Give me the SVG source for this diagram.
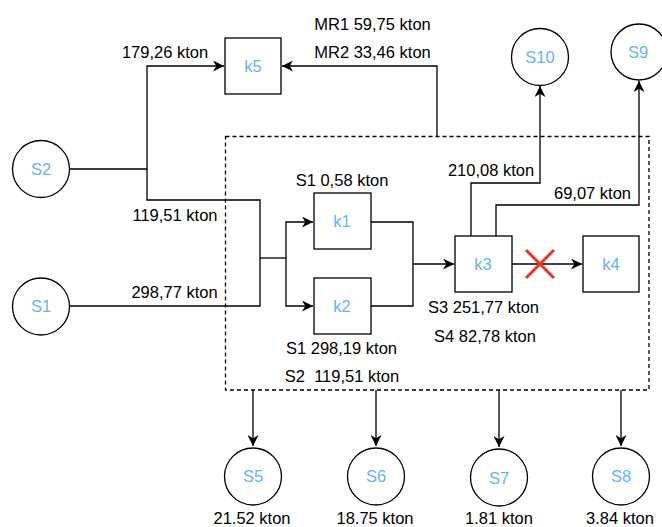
<svg xmlns="http://www.w3.org/2000/svg" width="662" height="527" viewBox="0 0 662 527">
<style>
text{font-family:"Liberation Sans",Arial,Helvetica,sans-serif;font-size:16.5px;fill:#000;text-anchor:middle;white-space:pre}
.lbl{fill:#66B2FF}
.box{fill:#fff;stroke:#000;stroke-width:1.3}
.ln{fill:none;stroke:#000;stroke-width:1.3}
.dash{fill:none;stroke:#000;stroke-width:1.3;stroke-dasharray:4 3}
</style>
<defs>
<marker id="ah" viewBox="0 0 10 10" refX="10" refY="5" markerWidth="11" markerHeight="11" markerUnits="userSpaceOnUse" orient="auto">
<path d="M0,0 L10,5 L0,10 L3,5 Z" fill="#000"/>
</marker>
</defs>
<rect width="662" height="527" fill="#fff"/>
<rect class="dash" x="225.5" y="136.5" width="423.5" height="253.5"/>
<g id="connectors">
<path class="ln" d="M70,169 H147 V66 H224" marker-end="url(#ah)"/>
<path class="ln" d="M147,169 V200 H260 V306 H70"/>
<path class="ln" d="M260,258 H286"/>
<path class="ln" d="M286,258 V222 H313" marker-end="url(#ah)"/>
<path class="ln" d="M286,258 V306 H313" marker-end="url(#ah)"/>
<path class="ln" d="M371,222 H413 V306 H371"/>
<path class="ln" d="M413,264 H454" marker-end="url(#ah)"/>
<path class="ln" d="M512,264 H582" marker-end="url(#ah)"/>
<path class="ln" d="M437,136.5 V66 H282" marker-end="url(#ah)"/>
<path class="ln" d="M471,236 V183 H540 V86" marker-end="url(#ah)"/>
<path class="ln" d="M496,236 V205 H639 V81" marker-end="url(#ah)"/>
<path class="ln" d="M253,390 V446" marker-end="url(#ah)"/>
<path class="ln" d="M376,390 V446" marker-end="url(#ah)"/>
<path class="ln" d="M499,390 V447" marker-end="url(#ah)"/>
<path class="ln" d="M621,390 V446" marker-end="url(#ah)"/>
<path d="M526,250 L554,278 M554,250 L526,278" stroke="#EE3527" stroke-width="3" fill="none"/>
</g>
<g id="k5"><rect class="box" x="225" y="38" width="56" height="56"/><text class="lbl" x="253" y="72">k5</text></g>
<g id="k1"><rect class="box" x="314" y="193" width="57" height="56"/><text class="lbl" x="342" y="227">k1</text></g>
<g id="k2"><rect class="box" x="314" y="278" width="57" height="56"/><text class="lbl" x="342" y="312">k2</text></g>
<g id="k3"><rect class="box" x="455" y="236" width="57" height="56"/><text class="lbl" x="483" y="270">k3</text></g>
<g id="k4"><rect class="box" x="583" y="236" width="56" height="56"/><text class="lbl" x="611" y="270">k4</text></g>
<g id="S2"><circle class="box" cx="41" cy="169" r="28.5"/><text class="lbl" x="41" y="175">S2</text></g>
<g id="S1"><circle class="box" cx="41" cy="306.5" r="28.5"/><text class="lbl" x="41" y="312">S1</text></g>
<g id="S10"><circle class="box" cx="540" cy="57" r="28.5"/><text class="lbl" x="540" y="63">S10</text></g>
<g id="S9"><circle class="box" cx="639" cy="52" r="28"/><text class="lbl" x="638" y="58">S9</text></g>
<g id="S5"><circle class="box" cx="253" cy="476.5" r="28.5"/><text class="lbl" x="253" y="482">S5</text></g>
<g id="S6"><circle class="box" cx="376" cy="476.5" r="28.5"/><text class="lbl" x="376" y="482">S6</text></g>
<g id="S7"><circle class="box" cx="499" cy="477.5" r="28.5"/><text class="lbl" x="499" y="484">S7</text></g>
<g id="S8"><circle class="box" cx="621" cy="476.5" r="28.5"/><text class="lbl" x="621" y="482">S8</text></g>
<g id="labels">
<text x="372.5" y="30">MR1 59,75 kton</text>
<text x="372.5" y="58">MR2 33,46 kton</text>
<text x="165" y="58">179,26 kton</text>
<text x="175" y="221">119,51 kton</text>
<text x="174.5" y="298">298,77 kton</text>
<text x="342" y="186">S1 0,58 kton</text>
<text x="491" y="176">210,08 kton</text>
<text x="592.5" y="199">69,07 kton</text>
<text x="483.5" y="313">S3 251,77 kton</text>
<text x="485" y="342">S4 82,78 kton</text>
<text x="341.5" y="354">S1 298,19 kton</text>
<text x="342" y="382">S2  119,51 kton</text>
<text x="252" y="524">21.52 kton</text>
<text x="375" y="524">18.75 kton</text>
<text x="499" y="524">1.81 kton</text>
<text x="620" y="524">3.84 kton</text>
</g>
</svg>
